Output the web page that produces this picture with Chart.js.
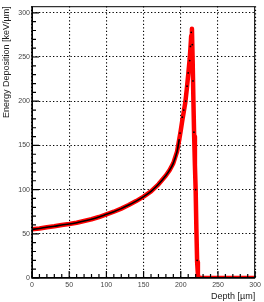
<!DOCTYPE html>
<html><head><meta charset="utf-8">
<script src="https://cdn.jsdelivr.net/npm/chart.js@4"></script>
<style>html,body{margin:0;padding:0;background:#fff}#w{width:264px;height:302px}</style>
</head><body><div id="w"><canvas id="c"></canvas></div>
<script>
// Depth [µm] and energy deposition [keV/µm] (band centre)
const depth = [0,10,20,30,40,50,60,70,80,90,100,110,120,130,140,150,160,170,180,185,190,195,198,200,202,204,206,208,210,212,213,214,215,216,217,218,219,220,221,222,223,224,230,240,250,260,270,280,290,300];
const edep  = [55,56,57.5,58.5,60,61,62.5,64.5,66.5,69,72,75,78.5,82.5,87,92,98,106,116,122,130,143,157,167,178,188,198,213,230,248,260,274,282,245,200,160,128,100,55,18,4,0,0,0,0,0,0,0,0,0];
// black measured points in the peak region
const peakDepth = [199,202,204,206.7,208.4,210,212,213,214,215.5,216.4,217.7,220,222];
const peakEdep  = [164,182,190,200,217,232,246,262,278,264,223,165,100,20];
const lineEnd = 198;
const xTicks = [0,50,100,150,200,250,300];
const yTicks = [0,50,100,150,200,250,300];

const redPts = depth.map((d,i)=>({x:d,y:edep[i]}));
const blackPts = depth.map((d,i)=>({x:d,y:edep[i]})).filter(p=>p.x<=lineEnd);
const dotPts = peakDepth.map((d,i)=>({x:d,y:peakEdep[i]}));

const FONT = '"Liberation Sans", Arial, sans-serif';

const frame = {
  id:'frame',
  afterDraw(ch){
    const {ctx, chartArea:a, scales:{x,y}} = ch;
    ctx.save();
    ctx.strokeStyle='#000';
    ctx.lineWidth=1;
    ctx.strokeRect(a.left+0.5,a.top+0.5,a.right-a.left-1,a.bottom-a.top-1);
    ctx.lineWidth=1.4;
    ctx.beginPath();
    ctx.moveTo(a.left,a.top); ctx.lineTo(a.left,a.bottom); ctx.lineTo(a.right,a.bottom);
    ctx.stroke();
    ctx.lineWidth=1.2;
    ctx.beginPath();
    for(let v=0; v<=300; v+=10){
      const px = x.getPixelForValue(v);
      const len = v%50===0 ? 7 : 4;
      ctx.moveTo(px,a.bottom); ctx.lineTo(px,a.bottom-len);
    }
    for(let v=0; v<=300; v+=10){
      const py = y.getPixelForValue(v);
      const len = v%50===0 ? 7 : 4;
      ctx.moveTo(a.left,py); ctx.lineTo(a.left+len,py);
    }
    ctx.stroke();
    ctx.restore();
  }
};

new Chart(document.getElementById('c'), {
  type:'scatter',
  data:{datasets:[
    {data:redPts, showLine:true, borderColor:'#ff0000', backgroundColor:'#ff0000', borderWidth:4.5, borderJoinStyle:'round', pointRadius:0, tension:0, order:3},
    {data:blackPts, showLine:true, borderColor:'#000', borderWidth:1.6, pointRadius:0, tension:0.3, order:2},
    {data:dotPts, showLine:false, backgroundColor:'#000', borderColor:'#000', pointRadius:0.9, borderWidth:0, order:1}
  ]},
  options:{
    responsive:true, maintainAspectRatio:false, animation:false,
    layout:{padding:{left:0,right:6,top:5,bottom:0}},
    plugins:{legend:{display:false}, tooltip:{enabled:false}},
    scales:{
      x:{type:'linear', min:0, max:300,
        afterBuildTicks(s){ s.ticks = xTicks.map(v=>({value:v})); },
        afterFit(s){ s.height = 24; },
        border:{display:false, dash:[1.3,2.2]},
        grid:{color:'#000', lineWidth:1.1, drawTicks:false},
        ticks:{font:{family:FONT,size:7}, color:'#444', padding:3, maxRotation:0},
        title:{display:true, text:'Depth [µm]', align:'end', font:{family:FONT,size:9}, color:'#222', padding:{top:1,bottom:0}}
      },
      y:{type:'linear', min:0, max:307.5,
        afterBuildTicks(s){ s.ticks = yTicks.map(v=>({value:v})); },
        afterFit(s){ s.width = 32; },
        border:{display:false, dash:[1.3,2.2]},
        grid:{color:'#000', lineWidth:1.1, drawTicks:false},
        ticks:{font:{family:FONT,size:7}, color:'#444', padding:2},
        title:{display:true, text:'Energy Deposition [keV/µm]', align:'end', font:{family:FONT,size:9}, color:'#222', padding:{top:1,bottom:2}}
      }
    }
  },
  plugins:[frame]
});
</script></body></html>
